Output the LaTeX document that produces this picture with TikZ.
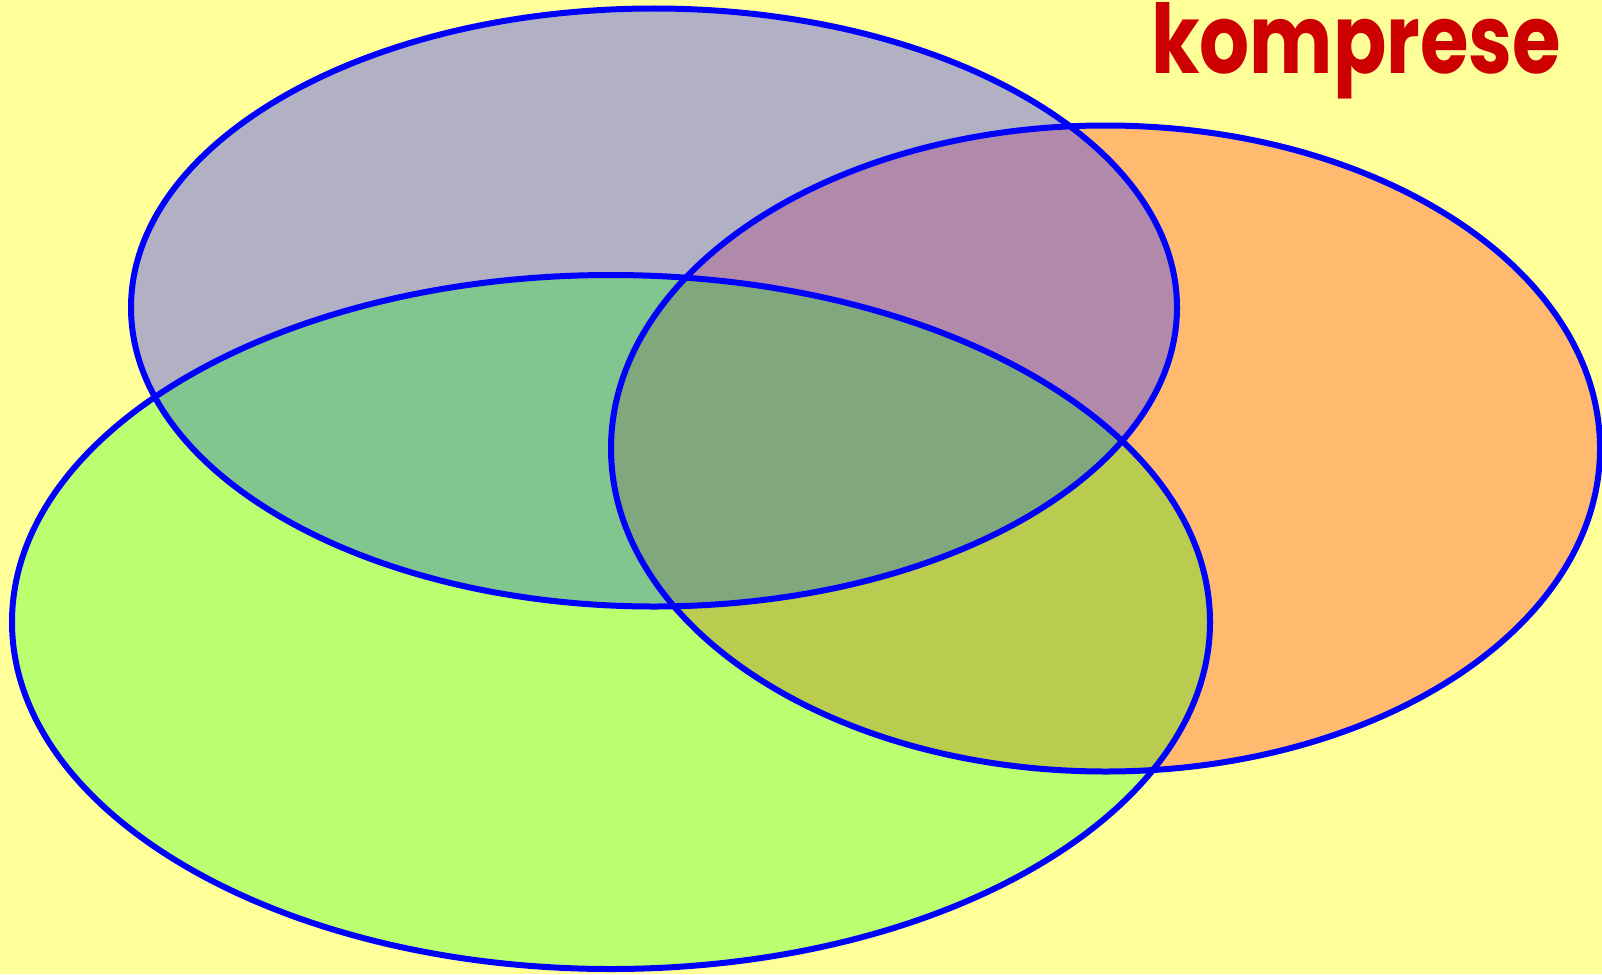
\documentclass[tikz,border=0pt]{standalone}
\usepackage{fontspec}
\newfontfamily\titlefont{Poppins Bold}
\definecolor{bg}{HTML}{FFFF99}
\definecolor{ttl}{HTML}{CC0000}
\definecolor{setblue}{RGB}{70,70,255}
\begin{document}
\begin{tikzpicture}[x=1pt,y=-1pt,
  setline/.style={draw=blue,line width=6pt},
  bluefill/.style={fill=setblue,fill opacity=0.42},
  redfill/.style={fill=red,fill opacity=0.27},
  greenfill/.style={fill=green,fill opacity=0.27}]
\fill[bg] (0,0) rectangle (1602,974);
\useasboundingbox (0,0) rectangle (1602,974);
% fills
\path[redfill] (1105.5,448.5) ellipse [x radius=494.5, y radius=323];
\path[bluefill] (654,307.5) ellipse [x radius=523, y radius=299];
\path[greenfill] (611,622) ellipse [x radius=599, y radius=347];
% outlines
\path[setline] (1105.5,448.5) ellipse [x radius=494.5, y radius=323];
\path[setline] (654,307.5) ellipse [x radius=523, y radius=299];
\path[setline] (611,622) ellipse [x radius=599, y radius=347];
\node[anchor=base west,inner sep=0pt,text=ttl] (title) at (1151,74)
  {\resizebox{410pt}{\height}{\titlefont\fontsize{96}{100}\selectfont komprese}};
\end{tikzpicture}
\end{document}
